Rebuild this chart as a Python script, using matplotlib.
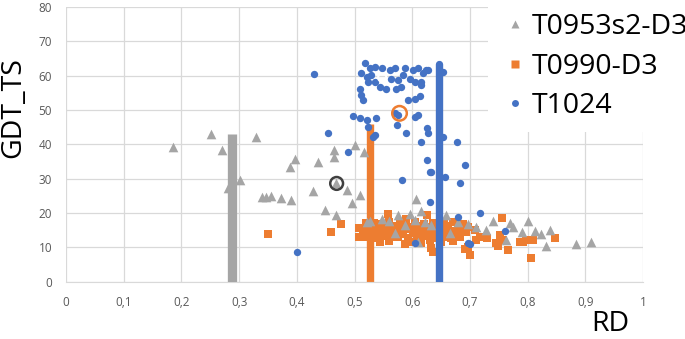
import numpy as np
import matplotlib
matplotlib.use('Agg')
import matplotlib.pyplot as plt
from matplotlib.lines import Line2D
from matplotlib.patches import Rectangle

plt.rcParams['font.family'] = ['Open Sans', 'DejaVu Sans']

# --- data ---
grey_x = [0.185, 0.251, 0.270, 0.281, 0.301, 0.330, 0.340, 0.347, 0.356, 0.372,
          0.390, 0.389, 0.397, 0.428, 0.436, 0.449, 0.464, 0.464, 0.468, 0.468,
          0.487, 0.496, 0.509, 0.501, 0.517, 0.522, 0.607,
          0.526, 0.547, 0.559, 0.570, 0.575, 0.587, 0.596, 0.616, 0.604, 0.622,
          0.633, 0.659, 0.665, 0.680, 0.697, 0.711, 0.610, 0.728, 0.740, 0.763,
          0.769, 0.775, 0.790, 0.801, 0.812, 0.824, 0.832, 0.838, 0.883, 0.910]
grey_y = [39.3, 43.0, 38.3, 27.3, 29.7, 42.0, 24.7, 24.7, 24.9, 24.3,
          23.8, 33.5, 35.6, 26.5, 34.9, 20.9, 38.3, 36.4, 19.4, 28.8,
          26.7, 23.0, 25.2, 39.8, 37.8, 17.5, 24.2,
          17.8, 18.2, 17.7, 14.2, 19.4, 16.6, 19.6, 20.6, 17.9, 17.5,
          16.5, 19.4, 14.3, 17.5, 16.8, 15.8, 11.6, 15.0, 17.8, 12.2,
          17.0, 16.0, 14.6, 17.8, 14.8, 14.0, 10.5, 15.0, 11.1, 11.7]

orange_x = [0.350, 0.460, 0.476, 0.507, 0.507,
            0.520, 0.533, 0.548, 0.560, 0.578, 0.590, 0.605, 0.620, 0.636, 0.655, 0.671, 0.688,
            0.526, 0.541, 0.556, 0.571, 0.586, 0.600, 0.615, 0.630, 0.646, 0.662, 0.680, 0.697,
            0.515, 0.528, 0.540, 0.552, 0.566, 0.582, 0.597, 0.612, 0.628, 0.642, 0.660, 0.676, 0.694, 0.708,
            0.522, 0.538, 0.553, 0.569, 0.584, 0.601, 0.617, 0.633, 0.648, 0.664, 0.679,
            0.518, 0.535, 0.550, 0.563, 0.575, 0.592, 0.608, 0.622, 0.640, 0.655, 0.668, 0.683,
            0.545, 0.560, 0.587, 0.600, 0.616, 0.630, 0.650, 0.670, 0.636, 0.633, 0.691, 0.697,
            0.558, 0.590, 0.625, 0.659, 0.682,
            0.700, 0.711, 0.717, 0.729, 0.749, 0.752, 0.757, 0.756, 0.766, 0.786, 0.792,
            0.798, 0.809, 0.806, 0.848, 0.746]
orange_y = [13.8, 14.4, 16.8, 15.5, 13.0,
            17.0, 17.2, 16.8, 17.3, 16.9, 17.0, 17.4, 16.8, 17.1, 16.9, 17.5, 16.8,
            16.0, 16.2, 15.9, 16.1, 16.0, 15.8, 16.2, 16.0, 15.9, 16.1, 16.0, 15.8,
            15.0, 15.2, 14.8, 15.1, 15.0, 14.8, 15.2, 15.0, 14.7, 15.1, 15.3, 14.9, 14.6, 15.0,
            14.0, 13.9, 14.1, 14.0, 13.8, 14.1, 14.0, 13.9, 14.0, 14.2, 13.9,
            13.0, 12.8, 13.2, 12.9, 13.1, 12.7, 13.0, 13.2, 12.8, 13.0, 12.6, 13.1,
            11.6, 11.8, 11.0, 11.7, 11.4, 12.0, 11.6, 11.8, 8.6, 9.9, 9.4, 10.2,
            19.7, 18.3, 19.4, 15.5, 16.0,
            7.8, 12.1, 13.1, 12.6, 10.3, 13.6, 12.2, 18.4, 9.3, 11.7, 11.7,
            12.2, 12.1, 6.8, 12.8, 11.2]

blue_x = [0.430, 0.454, 0.488, 0.401, 0.497, 0.509, 0.521, 0.538,
          0.518, 0.526, 0.535, 0.512, 0.521, 0.529, 0.535, 0.561, 0.570, 0.564,
          0.575, 0.581, 0.572, 0.584, 0.596, 0.601, 0.610, 0.618, 0.624, 0.616,
          0.604, 0.555, 0.544, 0.509, 0.512, 0.515, 0.604, 0.592, 0.616, 0.547,
          0.523, 0.587, 0.627, 0.654, 0.613,
          0.570, 0.576, 0.604, 0.610, 0.573, 0.523, 0.535, 0.532, 0.590, 0.625,
          0.627, 0.616, 0.677, 0.625, 0.691, 0.630, 0.633, 0.653, 0.656, 0.582,
          0.682, 0.630, 0.680, 0.717, 0.761, 0.697, 0.604, 0.700]
blue_y = [60.4, 43.2, 37.6, 8.5, 48.3, 47.5, 47.0, 47.5,
          63.5, 62.1, 62.6, 60.6, 59.6, 60.1, 58.2, 61.5, 62.1, 59.1,
          58.7, 56.7, 56.2, 60.1, 59.1, 61.5, 62.1, 60.6, 61.5, 58.2,
          58.2, 56.2, 56.7, 56.2, 54.3, 52.8, 53.3, 52.8, 57.2, 62.1,
          58.2, 62.1, 61.6, 61.1, 53.9,
          49.2, 48.5, 48.0, 48.5, 45.5, 45.0, 42.7, 42.2, 43.2, 44.6,
          43.2, 40.6, 40.6, 35.4, 33.9, 31.9, 32.0, 42.2, 30.6, 29.6,
          28.6, 23.3, 18.9, 20.1, 14.9, 11.2, 11.4, 11.1]

# thick vertical bars
bar_x = [0.287, 0.526, 0.647]
bar_top = [43.0, 46.0, 63.3]

# highlighted models (rings)
ring_x = [0.469, 0.578, 0.548]
ring_y = [28.6, 49.0, 59.4]

names = ['T0953s2-D3', 'T0990-D3', 'T1024']
c_grey, c_orange, c_blue = '#A5A5A5', '#ED7D31', '#4472C4'

fig = plt.figure(figsize=(6.85, 3.39), dpi=100)
ax = fig.add_axes([0.0964, 0.169, 0.8423, 0.811])

ax.scatter(orange_x, orange_y, marker='s', s=40, color=c_orange, linewidths=0, zorder=2)
ax.vlines(bar_x[1], 0, bar_top[1], color=c_orange, lw=5.3, zorder=2.5)
ax.scatter(grey_x, grey_y, marker='^', s=48, color=c_grey, linewidths=0, zorder=3)
ax.vlines(bar_x[0], 0, bar_top[0], color=c_grey, lw=6.7, zorder=3.5)
ax.scatter(blue_x, blue_y, marker='o', s=28, color=c_blue, linewidths=0, zorder=4)
ax.vlines(bar_x[2], 0, bar_top[2], color=c_blue, lw=5.3, zorder=4.5, capstyle='round')

ax.scatter(ring_x[0], ring_y[0], s=85, facecolors='none', edgecolors='#404040', linewidths=1.8, zorder=6)
ax.scatter(ring_x[1], ring_y[1], s=110, facecolors='none', edgecolors=c_orange, linewidths=1.8, zorder=6)
ax.scatter(ring_x[2], ring_y[2], s=35, facecolors='none', edgecolors='white', linewidths=1.5, zorder=6)

ax.set_xlim(0, 1)
ax.set_ylim(0, 80)
ax.set_xticks(np.arange(0, 1.01, 0.1))
ax.set_xticklabels(['0'] + ['0,%d' % i for i in range(1, 10)] + ['1'])
ax.set_yticks(np.arange(0, 81, 10))
ax.grid(True, color='#D9D9D9', lw=0.9, zorder=0)
ax.set_axisbelow(True)
for s in ['top', 'right', 'left']:
    ax.spines[s].set_visible(False)
ax.spines['bottom'].set_color('#D9D9D9')
ax.tick_params(length=0, labelsize=8.5, labelcolor='#595959', pad=10)

fig.text(0.019, 0.683, 'GDT_TS', rotation=90, ha='center', va='center', fontsize=20.5)
fig.text(0.891, 0.045, 'RD', ha='center', va='center', fontsize=20.5)

# legend sits on a white box over the plot corner
fig.add_artist(Rectangle((0.712, 0.611), 0.3, 0.4, transform=fig.transFigure,
                         facecolor='white', edgecolor='none', zorder=1))
handles = [Line2D([], [], ls='', marker='^', ms=6, color=c_grey, mec='none'),
           Line2D([], [], ls='', marker='s', ms=6, color=c_orange, mec='none'),
           Line2D([], [], ls='', marker='o', ms=5, color=c_blue, mec='none')]
leg = fig.legend(handles, names, loc='upper left', bbox_to_anchor=(0.735, 0.962),
                 frameon=False, fontsize=20.5, borderpad=0, borderaxespad=0,
                 handlelength=0.8, handletextpad=0.2, labelspacing=0.41)
leg.set_zorder(5)

fig.savefig('out.png', dpi=100)
